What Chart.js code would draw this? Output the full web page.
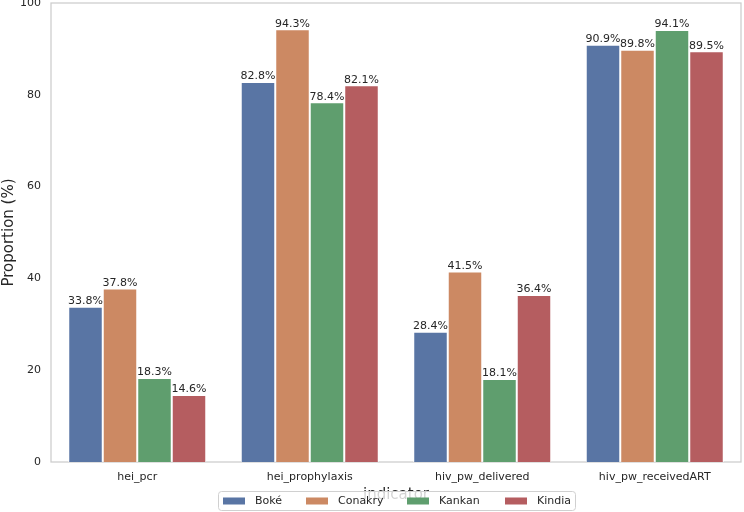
<!DOCTYPE html>
<html>
<head>
<meta charset="utf-8">
<script src="https://cdn.jsdelivr.net/npm/chart.js@4"></script>
<style>
  html, body { margin: 0; padding: 0; background: #fff; }
  #wrap { width: 744px; height: 512px; position: relative; }
</style>
</head>
<body>
<div id="wrap"><canvas id="chart" width="744" height="512"></canvas></div>
<script>
// chart data
const indicators = ['hei_pcr', 'hei_prophylaxis', 'hiv_pw_delivered', 'hiv_pw_receivedART'];
const regions = ['Boké', 'Conakry', 'Kankan', 'Kindia'];
const bokeVals = [33.8, 82.8, 28.4, 90.9];
const conakryVals = [37.8, 94.3, 41.5, 89.8];
const kankanVals = [18.3, 78.4, 18.1, 94.1];
const kindiaVals = [14.6, 82.1, 36.4, 89.5];
const yTicks = [0, 20, 40, 60, 80, 100];

const colors = ['#5975a4', '#cc8963', '#5f9e6e', '#b55d60'];
const FONT = "'DejaVu Sans', sans-serif";
const TEXT = '#262626';

const seriesVals = [bokeVals, conakryVals, kankanVals, kindiaVals];

// value labels over each bar
const barLabels = {
    id: 'barLabels',
    afterDatasetsDraw(chart) {
        const ctx = chart.ctx;
        ctx.save();
        ctx.font = '11px ' + FONT;
        ctx.fillStyle = TEXT;
        ctx.textAlign = 'center';
        ctx.textBaseline = 'bottom';
        chart.data.datasets.forEach((ds, i) => {
            chart.getDatasetMeta(i).data.forEach((bar, j) => {
                ctx.fillText(ds.data[j].toFixed(1) + '%', bar.x, bar.y);
            });
        });
        ctx.restore();
    }
};

// frame around the plot area
const frame = {
    id: 'frame',
    beforeDatasetsDraw(chart) {
        const a = chart.chartArea, ctx = chart.ctx;
        ctx.save();
        ctx.strokeStyle = '#cccccc';
        ctx.lineWidth = 1.25;
        ctx.strokeRect(a.left, a.top, a.right - a.left, a.bottom - a.top);
        ctx.restore();
    }
};

// matplotlib-like legend drawn on top of the x title
const legendBox = {
    id: 'legendBox',
    afterDraw(chart) {
        const ctx = chart.ctx;
        ctx.save();
        const x0 = 218, y0 = 491, w = 357, h = 19;
        ctx.fillStyle = 'rgba(255,255,255,0.8)';
        ctx.strokeStyle = '#d0d0d0';
        ctx.lineWidth = 1;
        ctx.beginPath();
        ctx.roundRect(x0 + 0.5, y0 + 0.5, w, h, 3);
        ctx.fill();
        ctx.stroke();
        const swX = [223, 306, 407, 505];
        ctx.font = '11px ' + FONT;
        ctx.textBaseline = 'middle';
        ctx.textAlign = 'left';
        regions.forEach((r, i) => {
            ctx.fillStyle = colors[i];
            ctx.fillRect(swX[i], y0 + 6.5, 22, 7);
            ctx.fillStyle = TEXT;
            ctx.fillText(r, swX[i] + 32, y0 + 10.5);
        });
        ctx.restore();
    }
};

new Chart(document.getElementById('chart'), {
    type: 'bar',
    data: {
        labels: indicators,
        datasets: regions.map((r, i) => ({
            label: r,
            data: seriesVals[i],
            backgroundColor: colors[i],
            borderColor: '#ffffff',
            borderWidth: 1,
            categoryPercentage: 0.8,
            barPercentage: 1.0
        }))
    },
    options: {
        responsive: false,
        animation: false,
        layout: { padding: { top: 3, right: 3, left: 0, bottom: 0 } },
        plugins: {
            legend: { display: false },
            tooltip: { enabled: false }
        },
        scales: {
            x: {
                grid: { display: false, drawTicks: false },
                border: { display: false },
                ticks: { color: TEXT, font: { family: FONT, size: 11 }, padding: 9 },
                title: {
                    display: true, text: 'indicator', color: TEXT,
                    font: { family: FONT, size: 15 }, padding: { top: 0, bottom: 8 }
                },
                afterFit(s) { s.height = 50; s.paddingLeft = 0; s.paddingRight = 0; }
            },
            y: {
                min: 0, max: 100,
                afterBuildTicks(s) { s.ticks = yTicks.map(v => ({ value: v })); },
                grid: { display: false, drawTicks: false },
                border: { display: false },
                ticks: { color: TEXT, font: { family: FONT, size: 11 }, padding: 10 },
                title: {
                    display: true, text: 'Proportion (%)', color: TEXT,
                    font: { family: FONT, size: 15 }, padding: { top: 0, bottom: 0 }
                },
                afterFit(s) { s.width = 51; s.paddingTop = 0; s.paddingBottom = 0; }
            }
        }
    },
    plugins: [frame, barLabels, legendBox]
});
</script>
</body>
</html>
